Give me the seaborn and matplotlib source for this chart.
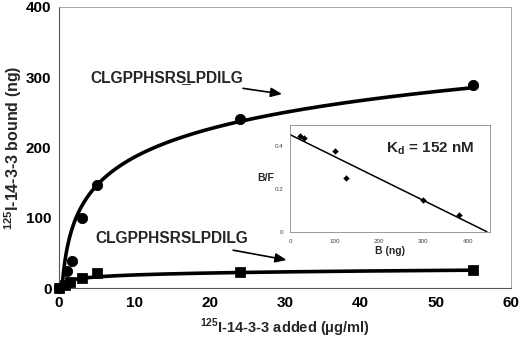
import matplotlib
matplotlib.use("Agg")
import matplotlib.pyplot as plt
import numpy as np
import pandas as pd
import seaborn as sns

# main binding data
conc_phos = [0, 1.0, 1.7, 3.0, 5.0, 24.0, 55.0]
bound_phos = [0, 25, 38, 100, 146, 240, 289]
conc_unphos = [0, 0.8, 1.5, 3.0, 5.1, 24.0, 55.0]
bound_unphos = [0, 5, 9, 15, 21, 23, 26]

# logarithmic trendlines y = a*ln(x) + b
trend_phos = (58.0, 52.7)
trend_unphos = (4.0, 9.5)

# Scatchard inset
scat_b = [22, 32, 101, 126, 300, 381]
scat_bf = [0.448, 0.437, 0.38, 0.25, 0.148, 0.078]

label_phos = "CLGPPHSRS\u0332LPDILG"
label_unphos = "CLGPPHSRSLPDILG"
kd_text = r"K$_\mathbf{d}$ = 152 nM"

sns.set_style("white")
plt.rcParams["font.family"] = ["Liberation Sans", "DejaVu Sans"]
plt.rcParams["mathtext.fontset"] = "custom"
plt.rcParams["mathtext.rm"] = "Liberation Sans"
plt.rcParams["mathtext.bf"] = "Liberation Sans:bold"
plt.rcParams["font.weight"] = "bold"

fig = plt.figure(figsize=(5.2, 3.43), dpi=100)
ax = fig.add_axes([0.1135, 0.160, 0.8695, 0.820])

df_p = pd.DataFrame({"x": conc_phos, "y": bound_phos})
df_u = pd.DataFrame({"x": conc_unphos, "y": bound_unphos})


def log_curve(coef, xmax):
    a, b = coef
    x0 = np.exp(-b / a)
    xx = np.linspace(x0, xmax, 400)
    return xx, a * np.log(xx) + b


xx, yy = log_curve(trend_phos, max(conc_phos))
sns.lineplot(x=xx, y=yy, ax=ax, color="black", lw=2.6)
xx, yy = log_curve(trend_unphos, max(conc_unphos))
sns.lineplot(x=xx, y=yy, ax=ax, color="black", lw=2.6)

sns.scatterplot(data=df_p, x="x", y="y", ax=ax, marker="o", s=55,
                color="black", edgecolor="black", zorder=5, clip_on=False)
sns.scatterplot(data=df_u, x="x", y="y", ax=ax, marker="s", s=45,
                color="black", edgecolor="black", zorder=5, clip_on=False)

ax.set_xlim(0, 60)
ax.set_ylim(0, 400)
ax.set_xticks(range(0, 61, 10))
ax.set_yticks(range(0, 401, 100))
ax.tick_params(axis="both", labelsize=11, direction="inout", length=5,
               width=0.6, colors="#555555", labelcolor="black", pad=3)
for lab in ax.get_xticklabels() + ax.get_yticklabels():
    lab.set_fontweight("bold")
for side in ["left", "bottom"]:
    ax.spines[side].set_color("#555555")
    ax.spines[side].set_linewidth(0.8)
for side in ["top", "right"]:
    ax.spines[side].set_color("#999999")
    ax.spines[side].set_linewidth(0.6)

ax.set_ylabel(r"$^{\mathbf{125}}$I-14-3-3 bound (ng)", fontsize=11.5,
              fontweight="bold", labelpad=1)
ax.set_xlabel(r"$^{\mathbf{125}}$I-14-3-3 added ($\mathbf{\mu}$g/ml)", fontsize=10.5,
              fontweight="bold", labelpad=5)

ax.annotate(label_phos, xy=(29.6, 276), xytext=(24.4, 300),
            ha="right", va="center", fontsize=11.2, fontweight="bold",
            arrowprops=dict(arrowstyle="-|>,head_length=0.6,head_width=0.25",
                            color="black", lw=1.2, shrinkA=2, shrinkB=0))
ax.annotate(label_unphos, xy=(30.2, 40), xytext=(25.1, 70),
            ha="right", va="center", fontsize=11.2, fontweight="bold",
            arrowprops=dict(arrowstyle="-|>,head_length=0.6,head_width=0.25",
                            color="black", lw=1.2, shrinkA=2, shrinkB=0))

# Scatchard inset
ins = fig.add_axes([0.558, 0.3245, 0.384, 0.311])
sl, ic = np.polyfit(scat_b, scat_bf, 1)
lx = np.linspace(0, -ic / sl, 50)
sns.lineplot(x=lx, y=sl * lx + ic, ax=ins, color="black", lw=1.1)
sns.scatterplot(x=scat_b, y=scat_bf, ax=ins, marker="D", s=9,
                color="black", edgecolor="black", zorder=5)
ins.set_xlim(0, 450)
ins.set_ylim(0, 0.5)
ins.set_xticks(range(0, 401, 100))
ins.set_yticks([0, 0.2, 0.4])
ins.set_yticklabels(["0", "0.2", "0.4"])
ins.tick_params(axis="both", labelsize=4.5, direction="out", length=2,
                width=0.5, colors="#666666", labelcolor="#444444", pad=3)
for lab in ins.get_xticklabels() + ins.get_yticklabels():
    lab.set_fontweight("normal")
for side in ins.spines.values():
    side.set_color("#888888")
    side.set_linewidth(0.6)
ins.set_xlabel("B (ng)", fontsize=7.5, fontweight="bold", labelpad=2)
ins.set_ylabel("B/F", fontsize=7.5, fontweight="bold", rotation=0,
               labelpad=6, va="center")
ins.text(0.70, 0.78, kd_text, transform=ins.transAxes, ha="center",
         va="center", fontsize=11, fontweight="bold")

fig.savefig("out.png", dpi=100)
